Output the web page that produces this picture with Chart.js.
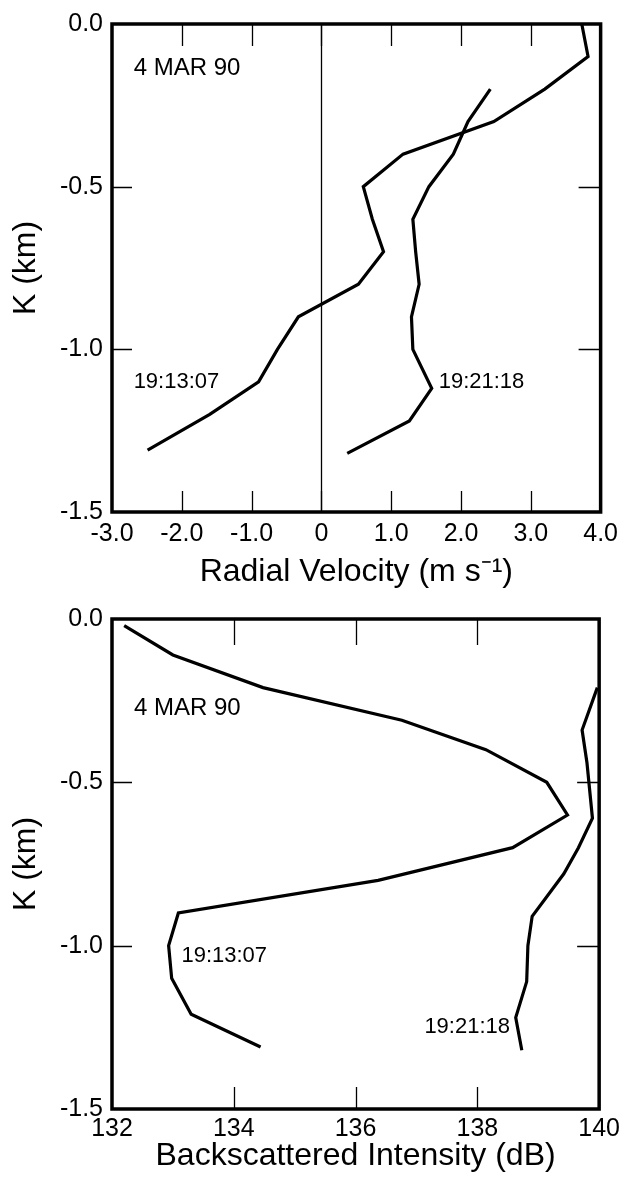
<!DOCTYPE html>
<html>
<head>
<meta charset="utf-8">
<script src="https://cdn.jsdelivr.net/npm/chart.js@4/dist/chart.umd.min.js"></script>
<style>
  html, body { margin: 0; padding: 0; background: #fff; }
  body { width: 625px; height: 1177px; position: relative; overflow: hidden; }
  canvas { position: absolute; left: 0; }
  #vel { top: 0; }
  #bs { top: 595px; }
</style>
</head>
<body>
<canvas id="vel" width="625" height="595"></canvas>
<canvas id="bs" width="625" height="582"></canvas>
<script>
// Radial velocity profiles, 4 MAR 90 (depth in km, velocity in m/s)
const velDepth1 = [0, -0.1, -0.2, -0.3, -0.4, -0.5, -0.6, -0.7, -0.8, -0.9, -1.0, -1.1, -1.2, -1.31];
const velValue1 = [3.73, 3.82, 3.2, 2.47, 1.17, 0.6, 0.73, 0.89, 0.53, -0.33, -0.63, -0.9, -1.6, -2.49];
const velDepth2 = [-0.2, -0.3, -0.4, -0.5, -0.6, -0.7, -0.8, -0.9, -1.0, -1.12, -1.22, -1.32];
const velValue2 = [2.42, 2.1, 1.89, 1.54, 1.31, 1.35, 1.4, 1.29, 1.31, 1.58, 1.26, 0.37];

// Backscattered intensity profiles (depth in km, intensity in dB)
const bsDepth1 = [-0.02, -0.11, -0.21, -0.31, -0.40, -0.50, -0.60, -0.70, -0.80, -0.90, -1.0, -1.10, -1.21, -1.31];
const bsValue1 = [132.2, 133.0, 134.48, 136.76, 138.14, 139.14, 139.48, 138.58, 136.37, 133.09, 132.93, 132.98, 133.3, 134.44];
const bsDepth2 = [-0.21, -0.34, -0.44, -0.61, -0.70, -0.78, -0.91, -1.0, -1.11, -1.22, -1.32];
const bsValue2 = [139.97, 139.72, 139.8, 139.89, 139.66, 139.42, 138.9, 138.83, 138.81, 138.63, 138.73];

// Axis ticks
const depthTicks = [0, -0.5, -1.0, -1.5];
const depthTickLabels = ['0.0', '-0.5', '-1.0', '-1.5'];
const velTicks = [-3, -2, -1, 0, 1, 2, 3, 4];
const velTickLabels = ['-3.0', '-2.0', '-1.0', '0', '1.0', '2.0', '3.0', '4.0'];
const bsTicks = [132, 134, 136, 138, 140];
const bsTickLabels = ['132', '134', '136', '138', '140'];

// In-panel notes: text and position in data units
const velNoteText = ['4 MAR 90', '19:13:07', '19:21:18'];
const velNoteX = [-2.69, -2.69, 1.68];
const velNoteY = [-0.137, -1.10, -1.10];
const bsNoteText = ['4 MAR 90', '19:13:07', '19:21:18'];
const bsNoteX = [132.36, 133.14, 137.13];
const bsNoteY = [-0.275, -1.03, -1.25];

const FONT = '"Liberation Sans", Arial, Helvetica, sans-serif';

function pairs(xs, ys) {
  return xs.map((x, i) => ({ x: x, y: ys[i] }));
}

// Frame, inward tick marks, optional zero line and notes
const framePlugin = {
  id: 'frame',
  afterDatasetsDraw(chart, args, opts) {
    const { ctx, chartArea: a, scales: { x, y } } = chart;
    ctx.save();
    ctx.strokeStyle = '#000';
    ctx.lineCap = 'butt';
    // inward x ticks
    ctx.lineWidth = 1.3;
    opts.xTicks.forEach(v => {
      if (v === opts.xTicks[0] || v === opts.xTicks[opts.xTicks.length - 1]) return;
      const px = Math.round(x.getPixelForValue(v)) + 0.5;
      ctx.beginPath();
      ctx.moveTo(px, a.top); ctx.lineTo(px, a.top + opts.tickTop);
      ctx.moveTo(px, a.bottom); ctx.lineTo(px, a.bottom - opts.tickBottom);
      ctx.stroke();
    });
    // inward y ticks
    depthTicks.forEach((v, i) => {
      if (i === 0 || i === depthTicks.length - 1) return;
      const py = Math.round(y.getPixelForValue(v)) + 0.5;
      ctx.beginPath();
      ctx.moveTo(a.left, py); ctx.lineTo(a.left + 20, py);
      ctx.moveTo(a.right, py); ctx.lineTo(a.right - 22, py);
      ctx.stroke();
    });
    // zero line
    if (opts.zeroLine) {
      const px = Math.round(x.getPixelForValue(0)) + 0.5;
      ctx.lineWidth = 1.3;
      ctx.beginPath();
      ctx.moveTo(px, a.top); ctx.lineTo(px, a.bottom);
      ctx.stroke();
    }
    // frame
    ctx.lineWidth = 3.5;
    ctx.strokeRect(a.left, a.top, a.right - a.left, a.bottom - a.top);
    // notes
    ctx.fillStyle = '#000';
    ctx.textAlign = 'left';
    ctx.textBaseline = 'middle';
    opts.noteText.forEach((t, i) => {
      ctx.font = (i === 0 ? opts.dateSize : opts.noteSize) + 'px ' + FONT;
      ctx.fillText(t, x.getPixelForValue(opts.noteX[i]), y.getPixelForValue(opts.noteY[i]));
    });
    ctx.restore();
  }
};

function makeChart(id, cfg) {
  const line = (xs, ys) => ({
    data: pairs(xs, ys),
    showLine: true,
    borderColor: '#000',
    borderWidth: 3.2,
    pointRadius: 0,
    tension: 0,
    fill: false,
    borderJoinStyle: 'miter'
  });
  return new Chart(document.getElementById(id), {
    type: 'scatter',
    data: { datasets: cfg.series.map(s => line(s[0], s[1])) },
    options: {
      responsive: false,
      animation: false,
      events: [],
      layout: { padding: { left: 0, right: 22, top: cfg.top, bottom: 0 } },
      plugins: {
        legend: { display: false },
        tooltip: { enabled: false },
        frame: cfg.frame
      },
      scales: {
        x: {
          type: 'linear',
          min: cfg.xTicks[0],
          max: cfg.xTicks[cfg.xTicks.length - 1],
          afterBuildTicks: s => { s.ticks = cfg.xTicks.map(v => ({ value: v })); },
          afterFit: s => { s.height = cfg.xAxisHeight; },
          grid: { display: false, drawTicks: false },
          border: { display: false },
          ticks: {
            padding: cfg.xTickPad,
            color: '#000',
            font: { family: FONT, size: 25 },
            maxRotation: 0,
            autoSkip: false,
            callback: (v) => cfg.xLabels[cfg.xTicks.indexOf(v)]
          },
          title: {
            display: true,
            text: cfg.xTitle,
            color: '#000',
            font: { family: FONT, size: 32 },
            padding: { top: 0, bottom: cfg.xTitlePad }
          }
        },
        y: {
          type: 'linear',
          min: -1.5,
          max: 0,
          afterBuildTicks: s => { s.ticks = depthTicks.map(v => ({ value: v })); },
          afterFit: s => { s.width = 112; },
          grid: { display: false, drawTicks: false },
          border: { display: false },
          ticks: {
            padding: 9,
            color: '#000',
            font: { family: FONT, size: 25 },
            autoSkip: false,
            callback: (v) => depthTickLabels[depthTicks.indexOf(v)]
          },
          title: {
            display: true,
            text: 'K (km)',
            color: '#000',
            font: { family: FONT, size: 32 },
            padding: { top: 7, bottom: 0 }
          }
        }
      }
    },
    plugins: [framePlugin]
  });
}

makeChart('vel', {
  series: [[velValue1, velDepth1], [velValue2, velDepth2]],
  top: 20,
  xAxisHeight: 83,
  xTicks: velTicks,
  xLabels: velTickLabels,
  xTickPad: 7,
  xTitle: 'Radial Velocity (m s\u207B\u00B9)',
  xTitlePad: 4,
  frame: {
    xTicks: velTicks, tickTop: 22, tickBottom: 21, zeroLine: true,
    noteText: velNoteText, noteX: velNoteX, noteY: velNoteY,
    dateSize: 24, noteSize: 22
  }
});

makeChart('bs', {
  series: [[bsValue1, bsDepth1], [bsValue2, bsDepth2]],
  top: 18,
  xAxisHeight: 68,
  xTicks: bsTicks,
  xLabels: bsTickLabels,
  xTickPad: 5,
  xTitle: 'Backscattered Intensity (dB)',
  xTitlePad: 2,
  frame: {
    xTicks: bsTicks, tickTop: 26, tickBottom: 22, zeroLine: false,
    noteText: bsNoteText, noteX: bsNoteX, noteY: bsNoteY,
    dateSize: 24, noteSize: 22
  }
});
</script>
</body>
</html>
